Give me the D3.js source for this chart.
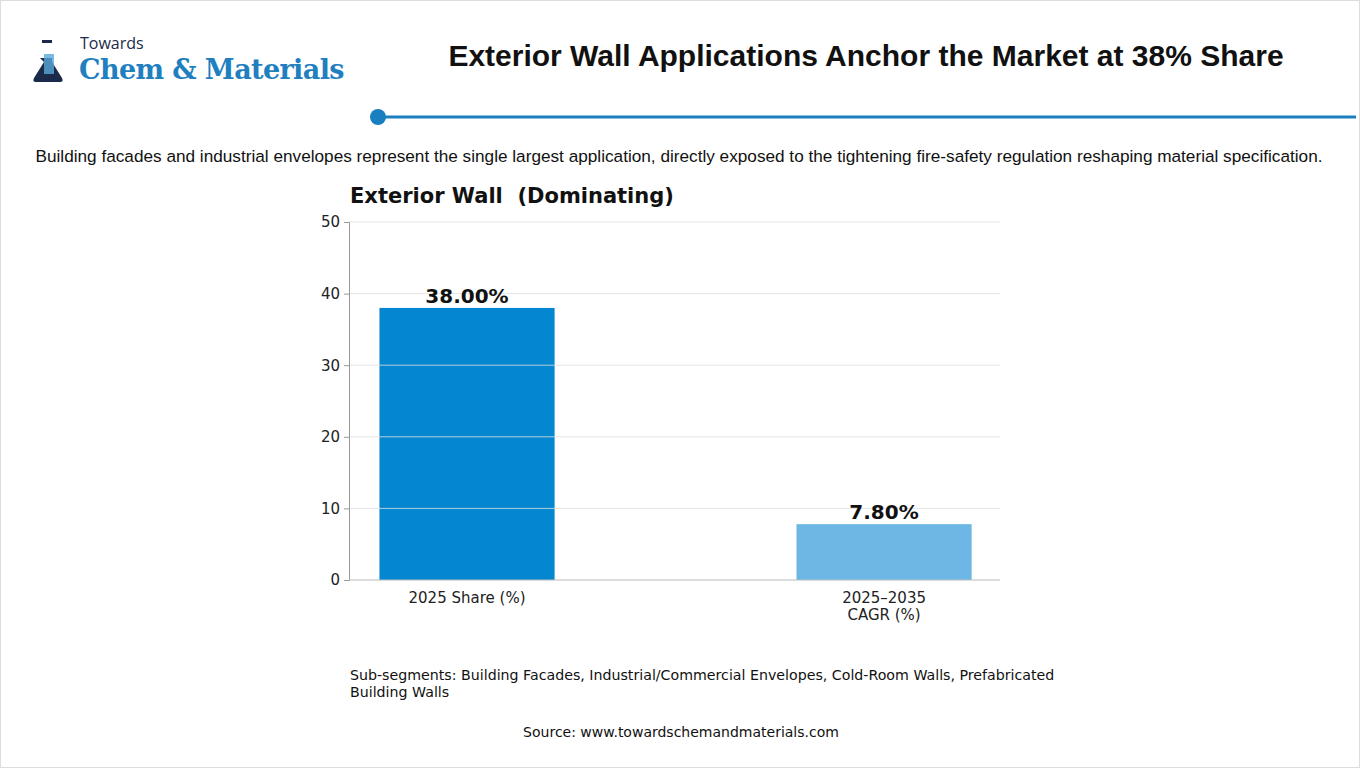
<!DOCTYPE html>
<html><head><meta charset="utf-8">
<script src="https://cdn.jsdelivr.net/npm/d3@7"></script>
<style>body{margin:0;background:#fff} text{white-space:pre}</style>
</head><body>
<svg id="c" width="1360" height="768"></svg>
<script>
const categories = ['2025 Share (%)', '2025–2035\nCAGR (%)'];
const values = [38.0, 7.8];
const barColors = ['#0586d0', '#6db7e4'];
const yTicks = [0, 10, 20, 30, 40, 50];

const svg = d3.select('#c');
const font = 'DejaVu Sans, sans-serif';

// frame
svg.append('rect').attr('x', 0.5).attr('y', 0.5).attr('width', 1359).attr('height', 767)
  .attr('fill', 'none').attr('stroke', '#ddd');

// logo
const logo = svg.append('g');
logo.append('path').attr('d', 'M40,58 L52,58 L52,62 L62,78 Q64,82 60,82 L36,82 Q32,82 34,78 L44,62 Z')
  .attr('fill', '#1c2a4a');
logo.append('rect').attr('x', 42).attr('y', 40).attr('width', 10).attr('height', 3).attr('fill', '#1c2a4a');
logo.append('rect').attr('x', 44).attr('y', 54).attr('width', 10).attr('height', 20).attr('fill', '#5aa9d8').attr('opacity', 0.8);
logo.append('text').attr('x', 80).attr('y', 49).attr('font-family', 'Open Sans, sans-serif')
  .attr('font-size', 16).attr('fill', '#1c2a4a').text('Towards');
logo.append('text').attr('x', 79).attr('y', 79).attr('font-family', 'DejaVu Serif, Liberation Serif, serif')
  .attr('font-size', 27).attr('font-weight', 'bold').attr('fill', '#1f7fbf').attr('letter-spacing', -0.6)
  .text('Chem & Materials');

// title
svg.append('text').attr('x', 866).attr('y', 66).attr('text-anchor', 'middle')
  .attr('font-family', 'Liberation Sans, Arial, sans-serif').attr('font-weight', 'bold')
  .attr('font-size', 30).attr('fill', '#111').text('Exterior Wall Applications Anchor the Market at 38% Share');
svg.append('line').attr('x1', 378).attr('x2', 1356).attr('y1', 117).attr('y2', 117)
  .attr('stroke', '#1a7fbf').attr('stroke-width', 3);
svg.append('circle').attr('cx', 378).attr('cy', 117).attr('r', 8).attr('fill', '#1a7fbf');

svg.append('text').attr('x', 679).attr('y', 162).attr('text-anchor', 'middle')
  .attr('font-family', 'Liberation Sans, Arial, sans-serif').attr('font-size', 17.2).attr('fill', '#111')
  .text('Building facades and industrial envelopes represent the single largest application, directly exposed to the tightening fire-safety regulation reshaping material specification.');

// chart
const x = d3.scaleLinear().domain([-0.283, 1.278]).range([349, 1000]);
const y = d3.scaleLinear().domain([0, 50]).range([580, 222]);
const bw = 0.42;

svg.append('text').attr('x', 350).attr('y', 203).attr('font-family', font).attr('font-weight', 'bold')
  .attr('font-size', 21).attr('fill', '#111').text('Exterior Wall  (Dominating)');

const g = svg.append('g');
g.selectAll('.bar').data(values).join('rect')
  .attr('x', (d, i) => x(i - bw / 2)).attr('width', x(bw) - x(0))
  .attr('y', d => y(d)).attr('height', d => y(0) - y(d))
  .attr('fill', (d, i) => barColors[i]);

g.selectAll('.grid').data(yTicks.slice(1)).join('line')
  .attr('x1', 349).attr('x2', 1000).attr('y1', d => y(d)).attr('y2', d => y(d))
  .attr('stroke', '#e0e0e0').attr('stroke-width', 1).attr('opacity', 0.8);

g.selectAll('.lbl').data(values).join('text')
  .attr('x', (d, i) => x(i)).attr('y', d => y(d) - 5).attr('text-anchor', 'middle')
  .attr('font-family', font).attr('font-weight', 'bold').attr('font-size', 20).attr('fill', '#111')
  .text(d => d.toFixed(2) + '%');

const ya = svg.append('g').attr('transform', 'translate(349,0)')
  .call(d3.axisLeft(y).tickValues(yTicks).tickSize(5).tickPadding(4));
ya.selectAll('text').attr('font-family', font).attr('font-size', 15).attr('fill', '#222');
ya.selectAll('line,path').attr('stroke', '#999');

svg.append('line').attr('x1', 349).attr('x2', 1000).attr('y1', 580).attr('y2', 580).attr('stroke', '#bbb');

categories.forEach((c, i) => {
  const t = svg.append('text').attr('text-anchor', 'middle').attr('font-family', font)
    .attr('font-size', 15).attr('fill', '#222');
  c.split('\n').forEach((line, j) => t.append('tspan').attr('x', x(i)).attr('y', 603 + j * 17).text(line));
});

const sub = svg.append('text').attr('font-family', font).attr('font-size', 14.2).attr('fill', '#111');
sub.append('tspan').attr('x', 350).attr('y', 680).text('Sub-segments: Building Facades, Industrial/Commercial Envelopes, Cold-Room Walls, Prefabricated');
sub.append('tspan').attr('x', 350).attr('y', 697).text('Building Walls');

svg.append('text').attr('x', 681).attr('y', 737).attr('text-anchor', 'middle').attr('font-family', font)
  .attr('font-size', 14).attr('fill', '#111').text('Source: www.towardschemandmaterials.com');
</script>
</body></html>
